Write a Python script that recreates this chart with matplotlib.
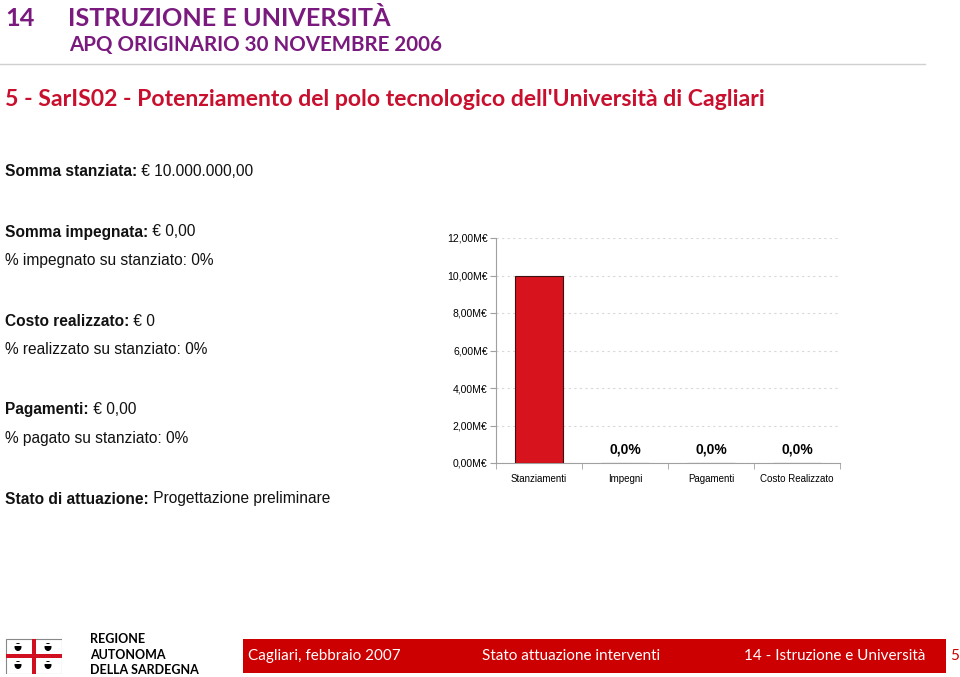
import matplotlib
matplotlib.use('Agg')
from matplotlib import pyplot as plt
from matplotlib.patches import Rectangle, Ellipse

# data
categories = ['Stanziamenti', 'Impegni', 'Pagamenti', 'Costo Realizzato']
values_meur = [10.0, 0.0, 0.0, 0.0]
pct_labels = ['', '0,0%', '0,0%', '0,0%']
yticks = [0, 2, 4, 6, 8, 10, 12]

info_lines = [
    ('Somma stanziata:', ' € 10.000.000,00', 171),
    ('Somma impegnata:', ' € 0,00', 232),
    ('', '% impegnato su stanziato: 0%', 261),
    ('Costo realizzato:', ' € 0', 321),
    ('', '% realizzato su stanziato: 0%', 350),
    ('Pagamenti:', ' € 0,00', 410),
    ('', '% pagato su stanziato: 0%', 439),
    ('Stato di attuazione:', ' Progettazione preliminare', 499),
]

W, H = 960, 677
PURPLE = '#7a1a7e'
RED = '#c8102e'
BAND = '#cc0000'

fig = plt.figure(figsize=(W / 100, H / 100), dpi=100)


def fy(py):
    return 1 - py / H


def fx(px):
    return px / W


# header
fig.text(fx(5), fy(18), '14', color=PURPLE, fontsize=18.2, fontweight='bold',
         family='Lato', va='center')
fig.text(fx(68), fy(18), 'ISTRUZIONE E UNIVERSITÀ', color=PURPLE, fontsize=18.2,
         fontweight='bold', family='Lato', va='center')
fig.text(fx(69), fy(45), 'APQ ORIGINARIO 30 NOVEMBRE 2006', color=PURPLE,
         fontsize=14.8, fontweight='bold', family='Lato', va='center')
fig.add_artist(plt.Line2D([0, fx(925)], [fy(64), fy(64)], color='#d0d0d0', lw=1))
fig.text(fx(5), fy(100), "5 - SarIS02 - Potenziamento del polo tecnologico dell'Università di Cagliari",
         color=RED, fontsize=16.6, fontweight='bold', family='Lato', va='center')

# info block
renderer = fig.canvas.get_renderer()
for bold, normal, py in info_lines:
    x = fx(5)
    if bold:
        t = fig.text(x, fy(py), bold, fontsize=11.2, fontweight='bold',
                     family='Liberation Sans', va='center', color='#111111')
        bb = t.get_window_extent(renderer)
        x = bb.x1 / W
    fig.text(x, fy(py), normal, fontsize=11.2, family='Liberation Sans',
             va='center', color='#111111')

# chart
ax = fig.add_axes([fx(496), fy(463), fx(840) - fx(496), fy(238) - fy(463)])
xs = list(range(len(categories)))
ax.bar(xs, values_meur, width=0.56, color='#d7141e', edgecolor='#3a1010', lw=0.8,
       zorder=3)
for x, lab in zip(xs, pct_labels):
    if lab:
        ax.text(x, 0.35, lab, ha='center', va='bottom', fontsize=10,
                fontweight='bold', family='Liberation Sans')
ax.set_xlim(-0.5, len(categories) - 0.5)
ax.set_ylim(0, 12)
ax.set_yticks(yticks)
ax.set_yticklabels([f'{v},00M€' for v in yticks], fontsize=7.5,
                   family='Liberation Sans')
ax.yaxis.grid(True, ls=(0, (2, 3)), color='#d8d8d8', lw=0.8)
ax.set_xticks(xs)
ax.set_xticklabels(categories, fontsize=7, family='Liberation Sans')
ax.set_xticks([i + 0.5 for i in range(-1, len(categories))], minor=True)
ax.tick_params(axis='x', which='major', length=0, pad=8)
ax.tick_params(axis='x', which='minor', length=4, color='#a0a0a0')
ax.tick_params(axis='y', length=4, color='#a0a0a0', pad=2)
for s in ['top', 'right']:
    ax.spines[s].set_visible(False)
for s in ['left', 'bottom']:
    ax.spines[s].set_color('#a0a0a0')
    ax.spines[s].set_linewidth(0.8)

# footer logo
lax = fig.add_axes([fx(5), fy(674), fx(62) - fx(5), fy(638) - fy(674)])
lax.set_xlim(0, 57)
lax.set_ylim(0, 36)
lax.axis('off')
lax.add_patch(Rectangle((0.5, 0.5), 56, 35, fc='white', ec='#888888', lw=0.8))
lax.add_patch(Rectangle((0.5, 16), 56, 4, fc='#d01020', ec='none'))
lax.add_patch(Rectangle((26.5, 0.5), 4, 35, fc='#d01020', ec='none'))
for cx, cy in [(13, 27), (43, 27), (13, 9), (43, 9)]:
    lax.add_patch(Ellipse((cx, cy), 7, 8, fc='black', ec='none'))
    lax.add_patch(Rectangle((cx - 4, cy + 1.5), 8, 1.6, fc='white', ec='none'))

for txt, py in [('REGIONE', 639), ('AUTONOMA', 655), ('DELLA SARDEGNA', 670)]:
    fig.text(fx(90), fy(py), txt, fontsize=9, fontweight='bold', family='Lato',
             va='center')

# footer band
fig.add_artist(Rectangle((fx(243), fy(673)), fx(946) - fx(243), fy(639) - fy(673),
                         transform=fig.transFigure, fc=BAND, ec='none'))
fig.text(fx(248), fy(656), 'Cagliari, febbraio 2007', color='white', fontsize=11,
         family='Lato', va='center')
fig.text(fx(482), fy(656), 'Stato attuazione interventi', color='white',
         fontsize=11, family='Lato', va='center')
fig.text(fx(925), fy(656), '14 - Istruzione e Università', color='white',
         fontsize=11, family='Lato', va='center', ha='right')
fig.text(fx(950), fy(656), '5', color=BAND, fontsize=11, family='Lato',
         va='center')

fig.savefig('out.png', dpi=100)
